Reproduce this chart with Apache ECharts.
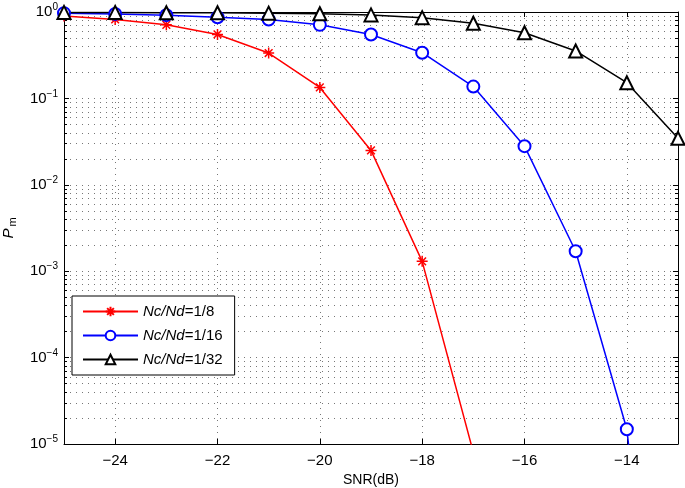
<!DOCTYPE html>
<html><head><meta charset="utf-8">
<script src="https://cdn.jsdelivr.net/npm/echarts@6/dist/echarts.min.js"></script>
<style>html,body{margin:0;padding:0;background:#fff}#c{width:685px;height:488px}</style>
</head><body><div id="c"></div>
<script>
const snr = [-25,-24,-23,-22,-21,-20,-19,-18,-17,-16,-15,-14,-13];
const pm8 = [0.90,0.82,0.71,0.55,0.335,0.134,0.025,0.0013,8e-6];
const pm16 = [0.97,0.95,0.92,0.87,0.82,0.71,0.55,0.338,0.137,0.028,0.0017,1.48e-5,1e-10];
const pm32 = [0.99,0.99,0.98,0.98,0.97,0.955,0.925,0.86,0.74,0.576,0.354,0.152,0.0345];
const xTicks = [-24,-22,-20,-18,-16,-14];
const seriesNames = ['Nc/Nd=1/8','Nc/Nd=1/16','Nc/Nd=1/32'];
const colors = ['#ff0000','#0000ff','#000000'];

const FONT = 'Liberation Sans';
const pairs = (ys) => ys.map((v,i)=>[snr[i], v]);
const asterisk = 'path://M5,0L5,10M0,5L10,5M1.5,1.5L8.5,8.5M8.5,1.5L1.5,8.5';
const gridLine = {show:true, lineStyle:{color:'#777', type:[1,5], width:1}};
const minus = s => String(s).replace('-', '\u2212');

const chart = echarts.init(document.getElementById('c'), null, {renderer:'canvas'});
const yLabel = v => {
  const e = Math.round(Math.log10(v));
  return '10{sup|' + minus(e) + '}';
};
chart.setOption({
  animation:false,
  backgroundColor:'#fff',
  textStyle:{fontFamily:FONT},
  grid:{left:64, right:7, top:12, bottom:44, containLabel:false, outerBoundsMode:'none'},
  xAxis:[{
    type:'value', min:-25, max:-13, position:'bottom',
    name:'SNR(dB)', nameLocation:'middle', nameGap:27,
    nameTextStyle:{fontFamily:FONT, fontSize:14, color:'#000'},
    axisLine:{show:true, onZero:false, lineStyle:{color:'#000', width:1}},
    axisTick:{show:true, inside:true, length:5, customValues:xTicks, lineStyle:{color:'#000'}},
    axisLabel:{customValues:xTicks, formatter:v=>minus(v), fontFamily:FONT, fontSize:15, color:'#000', margin:9},
    splitLine:gridLine
  },{
    type:'value', min:-25, max:-13, position:'top',
    axisLine:{show:true, onZero:false, lineStyle:{color:'#000', width:1}},
    axisTick:{show:true, inside:true, length:5, customValues:xTicks, lineStyle:{color:'#000'}},
    axisLabel:{show:false}, splitLine:{show:false}
  }],
  yAxis:[{
    type:'log', logBase:10, min:1e-5, max:1, position:'left',
    name:'{p|P}{m|m}', nameLocation:'middle', nameRotate:90, nameGap:46,
    nameTextStyle:{color:'#000', rich:{p:{fontFamily:FONT, fontSize:15, fontStyle:'italic', color:'#000'}, m:{fontFamily:FONT, fontSize:11, color:'#000', padding:[8,0,0,2]}}},
    axisLine:{show:true, onZero:false, lineStyle:{color:'#000', width:1}},
    axisTick:{show:true, inside:true, length:5, lineStyle:{color:'#000'}},
    minorTick:{show:true, splitNumber:9, length:3, lineStyle:{color:'#000'}},
    axisLabel:{formatter:yLabel, margin:6, color:'#000',
      rich:{sup:{fontFamily:FONT, fontSize:10, color:'#000', padding:[0,0,9,0]}},
      fontFamily:FONT, fontSize:15},
    splitLine:gridLine,
    minorSplitLine:gridLine
  },{
    type:'log', logBase:10, min:1e-5, max:1, position:'right',
    axisLine:{show:true, onZero:false, lineStyle:{color:'#000', width:1}},
    axisTick:{show:true, inside:true, length:5, lineStyle:{color:'#000'}},
    minorTick:{show:true, splitNumber:9, length:3, lineStyle:{color:'#000'}},
    axisLabel:{show:false}, splitLine:{show:false}
  }],
  legend:{
    orient:'vertical', left:72, top:296,
    backgroundColor:'#fff', borderColor:'#000', borderWidth:1,
    padding:[8,12,8,10], itemGap:9, itemWidth:55, itemHeight:12,
    data:seriesNames,
    formatter:n=>'{i|Nc/Nd}' + n.slice(5),
    textStyle:{fontFamily:FONT, fontSize:15, color:'#000', rich:{i:{fontFamily:FONT, fontSize:15, fontStyle:'italic', color:'#000'}}}
  },
  series:[
    {name:seriesNames[0], type:'line', data:pairs(pm8), symbol:asterisk, symbolSize:11, color:colors[0],
     lineStyle:{width:1.5, color:colors[0]}, itemStyle:{color:colors[0], borderColor:colors[0], borderWidth:1.5}},
    {name:seriesNames[1], type:'line', data:pairs(pm16), symbol:'emptyCircle', symbolSize:12, color:colors[1],
     lineStyle:{width:1.5, color:colors[1]}, itemStyle:{color:colors[1], borderColor:colors[1], borderWidth:1.5}},
    {name:seriesNames[2], type:'line', data:pairs(pm32), symbol:'emptyTriangle', symbolSize:13, color:colors[2],
     lineStyle:{width:1.5, color:colors[2]}, itemStyle:{color:colors[2], borderColor:colors[2], borderWidth:1.5}}
  ]
});
</script></body></html>
